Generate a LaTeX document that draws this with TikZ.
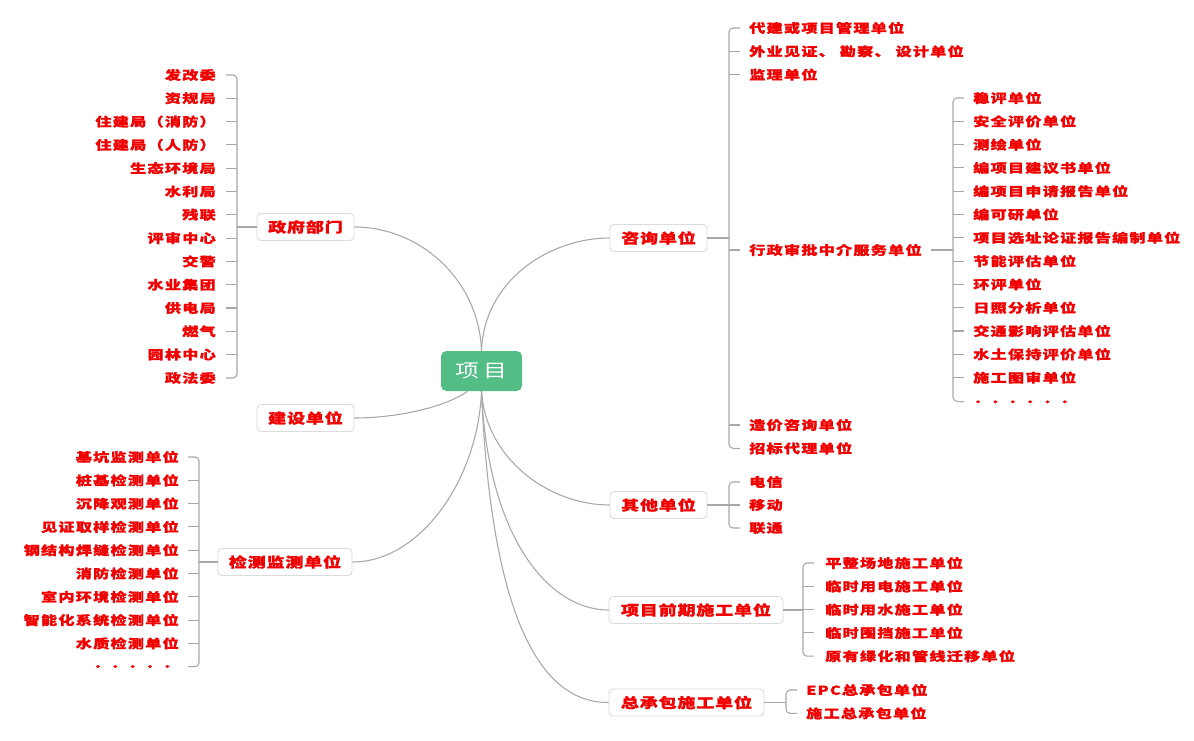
\documentclass[tikz,border=0pt]{standalone}
\usepackage{fontspec}
\newfontfamily\cjkchild[FakeStretch=1.3,LetterSpace=10,FakeBold=1.2]{Noto Sans CJK SC}
\newfontfamily\cjkmain[FakeStretch=1.3,LetterSpace=6,FakeBold=1.2]{Noto Sans CJK SC}
\newfontfamily\cjkcenter[FakeStretch=1.3,LetterSpace=20]{Noto Sans CJK SC}
\definecolor{txtred}{HTML}{F00000}
\definecolor{linegray}{HTML}{A8A8A8}
\definecolor{boxgray}{HTML}{DCDCDC}
\definecolor{rootgreen}{HTML}{52BD84}
\tikzset{
  conn/.style={draw=linegray,line width=0.8pt},
  bracket/.style={conn,rounded corners=3pt},
  child/.style={inner sep=0pt,text=txtred,font=\cjkchild\bfseries\fontsize{9.3pt}{11pt}\selectfont},
  mainbox/.style={draw=boxgray,line width=0.7pt,fill=white,rounded corners=3pt,inner sep=0pt,minimum height=20.25pt,text=txtred,font=\cjkmain\bfseries\fontsize{10.4pt}{12pt}\selectfont},
  rootbox/.style={fill=rootgreen,rounded corners=4pt,inner sep=0pt,minimum width=60.75pt,minimum height=30pt,text=white,font=\cjkcenter\fontsize{13.8pt}{15pt}\selectfont}
}
\begin{document}
\begin{tikzpicture}[x=0.75pt,y=-0.75pt]
\path[use as bounding box,fill=white] (0,0) rectangle (1194,741);

% root
\node[rootbox] (root) at (481.5,371) {项目};

% main nodes
\node[mainbox,minimum width=72.75pt] (gov) at (305.5,227) {政府部门};
\node[mainbox,minimum width=72.75pt] (build) at (305.5,418) {建设单位};
\node[mainbox,minimum width=100.5pt] (test) at (285,562) {检测监测单位};
\node[mainbox,minimum width=72.75pt] (cons) at (658.5,238) {咨询单位};
\node[mainbox,minimum width=72.75pt] (other) at (658.5,505) {其他单位};
\node[mainbox,minimum width=130.5pt] (pre) at (696,610) {项目前期施工单位};
\node[mainbox,minimum width=116.25pt] (epc) at (686.5,702.5) {总承包施工单位};

% curves from root
\draw[conn] (root.north) .. controls (479,280) and (420,227) .. (gov.east);
\draw[conn] (root.north) .. controls (484,280) and (550,238) .. (cons.west);
\draw[conn] (root.south west) ++(27,0) .. controls (440,410) and (390,418) .. (build.east);
\draw[conn] (root.south) .. controls (478,480) and (420,562) .. (test.east);
\draw[conn] (root.south) .. controls (486,460) and (550,505) .. (other.west);
\draw[conn] (root.south) .. controls (488,540) and (550,610) .. (pre.west);
\draw[conn] (root.south) .. controls (492,640) and (550,703) .. (epc.west);

% ---------- government group ----------
\coordinate (gvx) at (237,227);
\draw[conn] (gov.west) -- (gvx);
\foreach \i/\yy/\t in {1/75/发改委,2/98.3/资规局,3/121.6/住建局（消防）,4/144.9/住建局（人防）,5/168.2/生态环境局,6/191.5/水利局,7/214.8/残联,8/238.1/评审中心,9/261.4/交警,10/284.7/水业集团,11/308/供电局,12/331.3/燃气,13/354.6/园林中心,14/378/政法委}{
  \node[child,anchor=east] (g\i) at (216,\yy) {\t};
  \coordinate (gt\i) at (226,\yy);
}
\draw[bracket] (gt1) -- (237,75) -- (237,378) -- (gt14);
\foreach \i/\yy in {2/98.3,3/121.6,4/144.9,5/168.2,6/191.5,7/214.8,8/238.1,9/261.4,10/284.7,11/308,12/331.3,13/354.6}{
  \draw[conn] (gt\i) -- (237,\yy);
}

% ---------- testing group ----------
\coordinate (tsx) at (199,562);
\draw[conn] (test.west) -- (tsx);
\foreach \i/\yy/\t in {1/457/基坑监测单位,2/480.3/桩基检测单位,3/503.6/沉降观测单位,4/526.9/见证取样检测单位,5/550.2/钢结构焊缝检测单位,6/573.5/消防检测单位,7/596.8/室内环境检测单位,8/620.1/智能化系统检测单位,9/643.4/水质检测单位,10/666.7/．．．．．}{
  \node[child,anchor=east] (t\i) at (179,\yy) {\t};
  \coordinate (tt\i) at (188,\yy);
}
\draw[bracket] (tt1) -- (199,457) -- (199,666.7) -- (tt10);
\foreach \i/\yy in {2/480.3,3/503.6,4/526.9,5/550.2,6/573.5,7/596.8,8/620.1,9/643.4}{
  \draw[conn] (tt\i) -- (199,\yy);
}

% ---------- consulting group ----------
\coordinate (csx) at (729,238);
\draw[conn] (cons.east) -- (csx);
\node[child,anchor=west] (c1) at (749,28) {代建或项目管理单位};
\node[child,anchor=west] (c2) at (749,51.3) {外业见证、 勘察、 设计单位};
\node[child,anchor=west] (c3) at (749,74.6) {监理单位};
\node[child,anchor=west] (c4) at (749,250) {行政审批中介服务单位};
\node[child,anchor=west] (c5) at (749,425) {造价咨询单位};
\node[child,anchor=west] (c6) at (749,448.3) {招标代理单位};
\draw[bracket] (740,28) -- (729,28) -- (729,448.3) -- (740,448.3);
\draw[conn] (740,51.3) -- (729,51.3);
\draw[conn] (740,74.6) -- (729,74.6);
\draw[conn] (740,250) -- (729,250);
\draw[conn] (740,425) -- (729,425);

% ---------- admin sub group ----------
\coordinate (adx) at (953,250);
\draw[conn] ([xshift=7]c4.east) -- (adx);
\foreach \i/\yy/\t in {1/98/稳评单位,2/121.3/安全评价单位,3/144.6/测绘单位,4/167.9/编项目建议书单位,5/191.2/编项目申请报告单位,6/214.5/编可研单位,7/237.8/项目选址论证报告编制单位,8/261.1/节能评估单位,9/284.4/环评单位,10/307.7/日照分析单位,11/331/交通影响评估单位,12/354.3/水土保持评价单位,13/377.6/施工图审单位,14/402/．．．．．．}{
  \node[child,anchor=west] (a\i) at (973,\yy) {\t};
  \coordinate (at\i) at (964,\yy);
}
\draw[bracket] (at1) -- (953,98) -- (953,401) -- (at14);
\foreach \i/\yy in {2/121.3,3/144.6,4/167.9,5/191.2,6/214.5,7/237.8,8/261.1,9/284.4,10/307.7,11/331,12/354.3,13/377.6}{
  \draw[conn] (at\i) -- (953,\yy);
}

% ---------- other group ----------
\coordinate (otx) at (729,505);
\draw[conn] (other.east) -- (otx);
\node[child,anchor=west] (o1) at (749,482) {电信};
\node[child,anchor=west] (o2) at (749,505) {移动};
\node[child,anchor=west] (o3) at (749,528) {联通};
\draw[bracket] (740,482) -- (729,482) -- (729,528) -- (740,528);
\draw[conn] (740,505) -- (729,505);

% ---------- pre-construction group ----------
\coordinate (prx) at (803,610);
\draw[conn] (pre.east) -- (prx);
\node[child,anchor=west] (p1) at (825,563) {平整场地施工单位};
\node[child,anchor=west] (p2) at (825,586.3) {临时用电施工单位};
\node[child,anchor=west] (p3) at (825,609.6) {临时用水施工单位};
\node[child,anchor=west] (p4) at (825,632.9) {临时围挡施工单位};
\node[child,anchor=west] (p5) at (825,656.2) {原有绿化和管线迁移单位};
\draw[bracket] (814,563) -- (803,563) -- (803,656.2) -- (814,656.2);
\draw[conn] (814,586.3) -- (803,586.3);
\draw[conn] (814,632.9) -- (803,632.9);
\draw[conn] (814,609.6) -- (803,609.6);

% ---------- general contractor group ----------
\coordinate (epx) at (786,702.5);
\draw[conn] (epc.east) -- (epx);
\node[child,anchor=west] (e1) at (806,690) {EPC总承包单位};
\node[child,anchor=west] (e2) at (806,713.3) {施工总承包单位};
\draw[bracket] (797,690) -- (786,690) -- (786,713.3) -- (797,713.3);

\end{tikzpicture}
\end{document}
